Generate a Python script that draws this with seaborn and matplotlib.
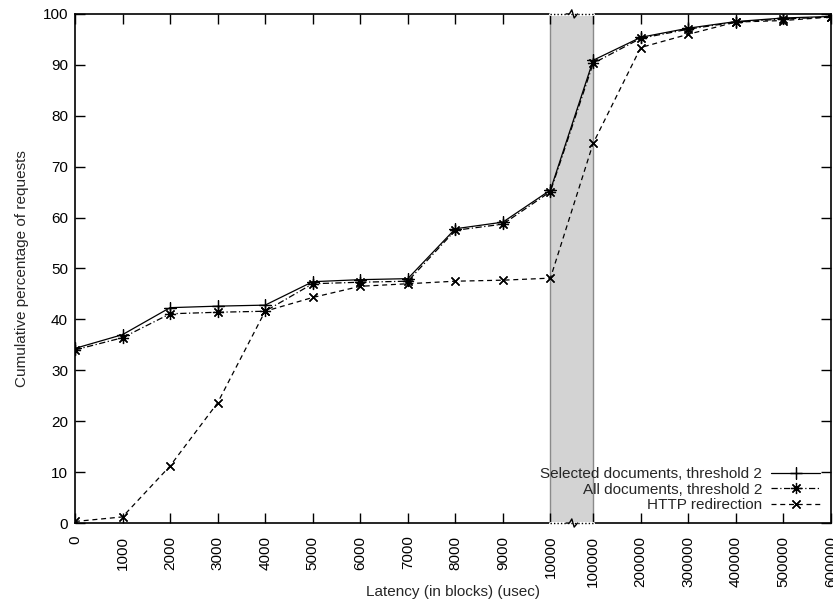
import matplotlib
matplotlib.use("Agg")
import matplotlib.pyplot as plt
import numpy as np
import pandas as pd
import seaborn as sns

# Latency buckets (two linear segments joined by an axis break)
latency_labels = ["0", "1000", "2000", "3000", "4000", "5000", "6000", "7000",
                  "8000", "9000", "10000",
                  "100000", "200000", "300000", "400000", "500000", "600000"]

selected_docs = [34.3, 37.0, 42.3, 42.6, 42.8, 47.4, 47.8, 48.0, 57.8, 59.1, 65.4,
                 90.9, 95.4, 97.2, 98.5, 99.2, 99.5]
all_docs = [34.0, 36.4, 41.1, 41.4, 41.6, 47.0, 47.3, 47.5, 57.5, 58.7, 65.1,
            90.3, 95.2, 97.0, 98.4, 99.0, 99.4]
http_redirect = [0.3, 1.2, 11.2, 23.6, 41.6, 44.3, 46.5, 47.0, 47.5, 47.7, 48.1,
                 74.6, 93.4, 96.0, 98.4, 98.7, 99.4]

series_names = ["Selected documents, threshold 2",
                "All documents, threshold 2",
                "HTTP redirection"]

# x positions: first segment 0..10, second segment shifted after the break
break_width = 0.9
xpos = [float(i) for i in range(11)] + [10 + break_width + i for i in range(6)]

df = pd.DataFrame({
    "x": xpos * 3,
    "y": selected_docs + all_docs + http_redirect,
    "series": sum([[n] * len(xpos) for n in series_names], []),
})

sns.set_style("ticks")
plt.rcParams["font.family"] = ["Liberation Sans", "DejaVu Sans"]
plt.rcParams["font.size"] = 11

fig = plt.figure(figsize=(8.33, 6.05), dpi=100)
ax = fig.add_axes([0.090, 0.1355, 0.9075, 0.8415])

# Shaded break region
x_lo, x_hi = 10.0, 10 + break_width
ax.axvspan(x_lo, x_hi, facecolor="#d3d3d3", edgecolor="#8a8a8a", linewidth=1.0, zorder=0)

styles = {
    series_names[0]: dict(linestyle="-", marker=(4, 2, 0), markersize=9),
    series_names[1]: dict(linestyle=(0, (5, 2, 1, 2)), marker=(8, 2, 0), markersize=8),
    series_names[2]: dict(linestyle=(0, (4, 3)), marker=(4, 2, 45), markersize=8),
}
for name in series_names:
    sub = df[df["series"] == name]
    st = styles[name]
    sns.lineplot(data=sub, x="x", y="y", ax=ax, color="black", linewidth=0.9,
                 linestyle=st["linestyle"], marker=st["marker"],
                 markersize=st["markersize"], markeredgewidth=0.9,
                 markeredgecolor="black", label=name, zorder=3)

ax.set_xlim(0, xpos[-1])
ax.set_ylim(0, 100)
ax.set_xticks(xpos)
ax.set_xticklabels(latency_labels, rotation=90)
ax.set_yticks(np.arange(0, 101, 10))

ax.tick_params(direction="in", top=True, right=True, length=7, width=1.0,
               labelsize=11, colors="black")
ax.tick_params(axis="x", pad=9)
ax.tick_params(axis="y", pad=5)
for sp in ax.spines.values():
    sp.set_linewidth(1.2)
    sp.set_color("black")

ax.set_xlabel("Latency (in blocks) (usec)", fontsize=11, labelpad=-1)
ax.set_ylabel("Cumulative percentage of requests", fontsize=11, labelpad=10)

# Axis break: dotted frame over the gap with a small zigzag on top and bottom
for ypos in (0.0, 1.0):
    ax.plot([x_lo, x_hi], [ypos, ypos], transform=ax.get_xaxis_transform(),
            color="white", linewidth=2.2, clip_on=False, zorder=5)
    ax.plot([x_lo, x_hi], [ypos, ypos], transform=ax.get_xaxis_transform(),
            color="black", linewidth=1.0, linestyle=(0, (1, 1.5)),
            clip_on=False, zorder=6)
    xm = (x_lo + x_hi) / 2
    zx = [xm - 0.12, xm - 0.05, xm, xm + 0.05, xm + 0.12]
    zy = [ypos, ypos, ypos + 0.008, ypos - 0.008, ypos]
    ax.plot(zx, zy, transform=ax.get_xaxis_transform(), color="black",
            linewidth=1.0, clip_on=False, zorder=7)

leg = ax.legend(loc="lower right", frameon=False, markerfirst=False,
                handlelength=3.2, fontsize=11, borderaxespad=0.3,
                labelspacing=0.1, handletextpad=0.6)

fig.savefig("out.png", dpi=100)
